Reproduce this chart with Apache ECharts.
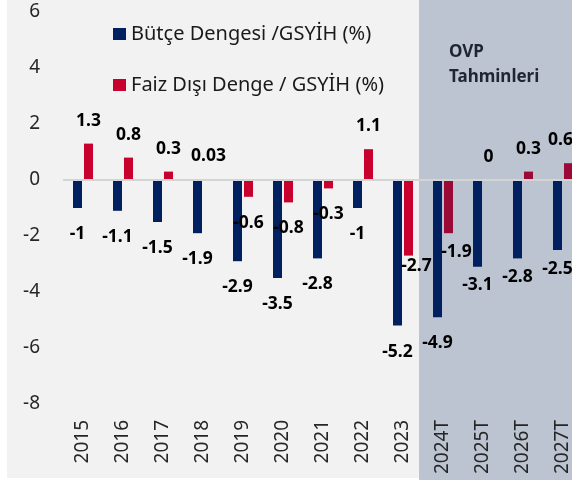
<!DOCTYPE html>
<html>
<head>
<meta charset="utf-8">
<script src="https://cdn.jsdelivr.net/npm/echarts@6/dist/echarts.min.js"></script>
<style>html,body{margin:0;padding:0;background:#fff}#c{width:572px;height:480px}</style>
</head>
<body>
<div id="c"></div>
<script>
const categories = ['2015','2016','2017','2018','2019','2020','2021','2022','2023','2024T','2025T','2026T','2027T'];
const butceDengesi = [-1, -1.1, -1.5, -1.9, -2.9, -3.5, -2.8, -1, -5.2, -4.9, -3.1, -2.8, -2.5];
const faizDisiDenge = [1.3, 0.8, 0.3, 0.03, -0.6, -0.8, -0.3, 1.1, -2.7, -1.9, 0, 0.3, 0.6];
const seriesNames = ['Bütçe Dengesi /GSYİH (%)', 'Faiz Dışı Denge / GSYİH (%)'];
const yMin = -8, yMax = 6, yInterval = 2;
const forecastStart = '2024T';
const annotation = 'OVP\nTahminleri';

// label placement tweaks (style, not data)
const blueLabelTweak = {'2025T': {d: 9}, '2026T': {d: 10}, '2027T': {d: 10}};
const redLabelTweak = {'2023': {d: 1, dx: 8}, '2024T': {d: 10, dx: 8}, '2027T': {dx: -8}};

const FONT = 'Noto Sans';
const BLUE = '#002060', RED = '#c8002d', RED_DARK = '#9b0a37';
const fIdx = categories.indexOf(forecastStart);

function buildData(vals, tweaks, isRed) {
  return vals.map((v, i) => {
    const t = tweaks[categories[i]] || {};
    const neg = v < 0;
    const item = {
      value: v,
      label: {
        position: neg ? 'bottom' : 'top',
        distance: t.d !== undefined ? t.d : (neg ? 17 : 14),
        offset: [t.dx || 0, 0]
      }
    };
    if (isRed && i >= fIdx) item.itemStyle = {color: RED_DARK};
    return item;
  });
}

const chart = echarts.init(document.getElementById('c'));
const labelStyle = {show: true, fontFamily: FONT, fontWeight: 'bold', fontSize: 17.5, color: '#000'};
chart.setOption({
  backgroundColor: '#fff',
  animation: false,
  textStyle: {fontFamily: FONT},
  grid: {left: 63, top: 12, width: 520, height: 392, outerBoundsMode: 'none', containLabel: false},
  legend: {
    orient: 'vertical', left: 108, top: 19, itemGap: 31,
    icon: 'rect', itemWidth: 13, itemHeight: 12,
    textStyle: {fontFamily: FONT, fontSize: 20, color: '#1a1a1a'},
    data: seriesNames
  },
  xAxis: {
    type: 'category', data: categories,
    axisLine: {show: false}, axisTick: {show: false},
    axisLabel: {rotate: 90, margin: 16, fontSize: 19, color: '#262626', fontFamily: FONT}
  },
  yAxis: {
    type: 'value', min: yMin, max: yMax, interval: yInterval,
    axisLine: {show: false}, axisTick: {show: false}, splitLine: {show: false},
    axisLabel: {margin: 23, fontSize: 19, color: '#262626', fontFamily: FONT}
  },
  series: [
    {
      name: seriesNames[0], type: 'bar', barWidth: 9, barGap: '22%',
      itemStyle: {color: BLUE},
      label: labelStyle,
      data: buildData(butceDengesi, blueLabelTweak, false),
      markLine: {
        silent: true, symbol: 'none', label: {show: false},
        lineStyle: {color: '#d4d4d4', width: 2, type: 'solid'},
        data: [{yAxis: 0}]
      }
    },
    {
      name: seriesNames[1], type: 'bar', barWidth: 9, barGap: '22%',
      itemStyle: {color: RED},
      label: labelStyle,
      data: buildData(faizDisiDenge, redLabelTweak, true)
    }
  ]
});

const cx = chart.convertToPixel({xAxisIndex: 0}, forecastStart);
const cx2 = chart.convertToPixel({xAxisIndex: 0}, categories[fIdx + 1]);
const band = cx2 - cx;
const shadeX = Math.round(cx - band / 2 - 4);
chart.setOption({
  graphic: [
    {type: 'rect', z: -10, silent: true, shape: {x: 7, y: 0, width: 565, height: 478}, style: {fill: '#f2f2f2'}},
    {type: 'rect', z: -5, silent: true, shape: {x: shadeX, y: 0, width: 572 - shadeX, height: 480}, style: {fill: '#bcc3d1'}},
    {type: 'text', z: 10, silent: true, x: shadeX + 30, y: 40,
     style: {text: annotation, fontFamily: FONT, fontWeight: 'bold', fontSize: 17, lineHeight: 25, fill: '#1f2533'}}
  ]
});
</script>
</body>
</html>
